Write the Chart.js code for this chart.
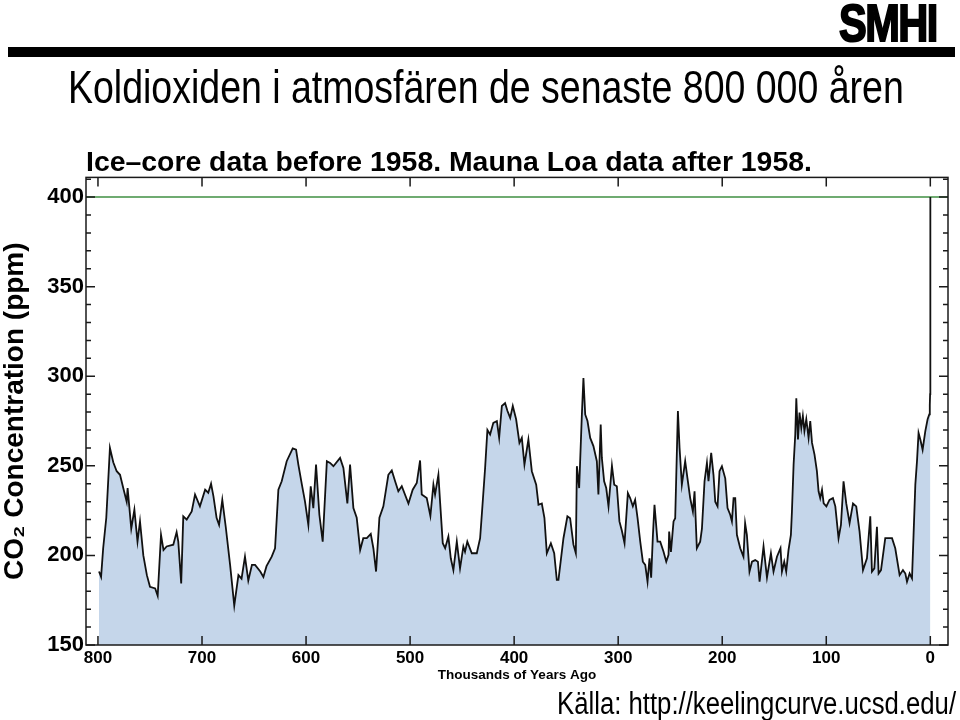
<!DOCTYPE html>
<html>
<head>
<meta charset="utf-8">
<script src="https://cdn.jsdelivr.net/npm/chart.js@4.4.1/dist/chart.umd.min.js"></script>
<style>
  html, body { margin: 0; padding: 0; background: #fff; }
  #page { position: relative; width: 960px; height: 720px; overflow: hidden; }
  #chart { position: absolute; left: 0; top: 0; }
  .logo { position: absolute; left: 839px; top: -3px; font: bold 52px/1 "Liberation Sans", Arial, sans-serif;
          letter-spacing: -2px; -webkit-text-stroke: 2px #000; transform: scaleX(0.8); transform-origin: left top; white-space: nowrap; }
  .bar { position: absolute; left: 8px; top: 47px; width: 947px; height: 10px; background: #000; }
  .headline { position: absolute; left: 68px; top: 64px; font: 46px/1 "Liberation Sans", Arial, sans-serif;
              transform: scaleX(0.815); transform-origin: left top; white-space: nowrap; }
  .source { position: absolute; left: 557px; top: 688px; font: 31px/1 "Liberation Sans", Arial, sans-serif;
            transform: scaleX(0.83); transform-origin: left top; white-space: nowrap; }
</style>
</head>
<body>
<div id="page">
  <canvas id="chart" width="960" height="720"></canvas>
  <div class="logo">SMHI</div>
  <div class="bar"></div>
  <div class="headline">Koldioxiden i atmosfären de senaste 800 000 åren</div>
  <div class="source">Källa: http://keelingcurve.ucsd.edu/</div>
</div>
<script>
// ice core record, thousands of years ago -> ppm
const iceCoreAge = [
  799, 797, 795, 792, 788.5, 785.3, 782, 778.8, 775.7, 772.4, 771.5, 768, 765, 762, 759.6, 756.4, 753, 750, 745, 742.6,
  739.4, 737, 734, 727.6, 724.4, 722.8, 720, 718, 714.7, 709.9, 706.7, 702, 697, 694, 691.3, 689, 686, 683.6, 680.5, 677.2,
  673, 669, 665, 662, 658.7, 655.5, 652, 649, 644, 641, 638, 633, 629.8, 626.6, 623.4, 618.6, 612.8, 609.6, 607.4, 604,
  601, 597.8, 595.5, 593, 590.4, 587.2, 584, 580, 576.9, 573.7, 567.3, 564.1, 560.3, 557.7, 554.5, 551.3, 548, 545, 541.6, 537.8,
  535.3, 532.7, 529.5, 525.7, 520.9, 517.6, 514.4, 511.3, 508, 501.6, 497.5, 493.6, 490.4, 488.8, 484, 480.5, 477.6, 476, 472.8, 471.2,
  468.6, 466.3, 463.2, 460.9, 458.4, 455.1, 452, 448.8, 447.2, 445, 440.7, 435.9, 432.7, 430.5, 427.9, 425.7, 423.1, 420, 416.6, 414.4,
  411.8, 408.7, 406.4, 403.8, 401.3, 398.1, 394.9, 392.6, 390.1, 386.3, 383, 378.8, 376.6, 373.4, 370.9, 368.6, 364.7, 361.5, 359, 357.4,
  352.6, 348.8, 346.2, 343, 340.7, 339.7, 337.5, 334.9, 333.4, 331.7, 329.5, 326.9, 323.8, 320.5, 319, 316.8, 315.7, 313.5, 311.5, 309.3,
  306, 303.8, 301.3, 298.8, 296.4, 293.9, 290.7, 288.5, 285.9, 283.7, 281.4, 278.8, 276.3, 274, 271.8, 269.9, 268.3, 266.6, 265.1, 262.2,
  259.6, 256.4, 253.8, 251.6, 251, 249.3, 246.8, 245.2, 242.6, 241, 238.8, 236.5, 235.6, 233.4, 230.8, 228.2, 226.6, 224.4, 221.2, 219.5,
  217, 214.7, 213.2, 210.6, 208.4, 206.7, 204.5, 202.6, 200.3, 197.1, 194.9, 192.3, 190.7, 189.1, 187.5, 185.9, 182.7, 179.6, 178, 176.3,
  173.8, 171.4, 168.3, 165.7, 164.1, 160.3, 157, 153.2, 150.7, 147.4, 144, 142.6, 140.4, 138.5, 136.3, 134, 133, 131.4, 129.8, 128.8,
  127.2, 125.7, 124, 122.5, 121, 119.2, 117, 115.4, 113.7, 111.3, 109, 107.4, 105.8, 104.1, 102.5, 99.9, 96.9, 93.6, 91.3, 88.2,
  85.9, 83.4, 80.8, 77.6, 74.3, 71.2, 68, 64.7, 60.9, 57.7, 56.1, 53.8, 51.3, 49.7, 47.4, 43.3, 36.8, 33.7, 29.5, 26.3,
  24, 22.4, 19.9, 17.6, 16.1, 14.4, 12.8, 11.3, 9.6, 7.4, 4.8, 2.6, 1, 0.5, 0.2
];
const iceCoreCo2 = [
  191, 188, 204, 221, 260, 252, 247, 245, 237.6, 230, 237.6, 215, 225.5, 207.7, 219, 200, 189, 182.5, 181.6, 177.5,
  211.5, 203, 205, 206, 213, 207.7, 184.4, 221.8, 220, 224.5, 234, 227.4, 236.7, 235, 240, 233, 221, 217, 231, 216,
  194.7, 172, 189, 187, 199.3, 186, 194.7, 194.7, 191, 188, 194, 199.3, 204, 236.7, 241.4, 252.6, 259.7, 259, 250.7, 239.5,
  230, 217, 238.6, 226.4, 250.7, 222.7, 207.7, 252.6, 251.6, 249.8, 254.4, 248.8, 229, 250.7, 226.4, 221, 203, 209.6, 209.6, 212,
  204, 191, 221, 227.4, 245, 247.4, 241.4, 235.8, 238.6, 229, 236.7, 240.4, 253, 234, 232, 222, 239.5, 234, 245, 230,
  206.8, 204, 210.5, 198.4, 191.8, 207.7, 192.8, 205, 202, 207.7, 201.2, 201.2, 209.6, 227.4, 248.8, 270, 267.5, 274, 275, 265.6,
  283.4, 285, 280.6, 276.8, 283.4, 276, 262.8, 265.6, 250.7, 264.7, 247, 239.5, 228.3, 229, 221, 201.2, 206.8, 201.2, 186.3, 186.3,
  209.6, 221.8, 220.8, 206, 201.2, 249.8, 237.6, 278.7, 299, 278.7, 275, 265.6, 261, 252.6, 234, 273, 254.4, 241.4, 237.6, 227.4,
  250, 239.5, 238.6, 219, 213.6, 206.8, 234.8, 232, 227.4, 231, 221, 207.7, 196.5, 194.7, 185.3, 198.4, 187.6, 211.5, 228.3, 207.7,
  207.7, 202, 196.5, 200.3, 213.3, 202, 219, 220.8, 280.6, 260, 239.5, 248.8, 252.6, 243, 232, 224.5, 235.8, 204, 207.7, 215,
  241.4, 251.6, 241.4, 257.2, 245, 230, 227.4, 247, 249.8, 243, 226.4, 222.7, 219, 232, 232, 211.5, 204, 199.3, 218, 211.5,
  191, 196.5, 197.4, 196.5, 185.3, 205, 187.6, 201.2, 191, 199.3, 204, 191, 196.5, 191, 203, 211.5, 224.5, 250.7, 267.5, 287.7,
  264.7, 279.7, 271.2, 277.8, 269.4, 276, 265.6, 275, 262.8, 256.3, 247, 235.8, 232, 236.7, 229, 227.4, 231, 232, 227.4, 209.6,
  217, 241.4, 229, 218, 229, 227.4, 213.3, 191.8, 198.4, 221.8, 191, 192.8, 216, 189.9, 191.8, 209.6, 209.6, 204, 189, 191.8,
  189.9, 185.3, 189.9, 187.2, 211.5, 239.5, 252.6, 268.4, 264.7, 259, 269.4, 276, 278.7, 284, 290
];
// Mauna Loa, 1958 -> present (negative = after 1950)
const maunaLoaAge = [-0.008, -0.063];
const maunaLoaCo2 = [315, 400];

const presentLevel = 400;
const xTickValues = [800, 700, 600, 500, 400, 300, 200, 100, 0];
const yTickValues = [150, 200, 250, 300, 350, 400];
const X_MIN = -17, X_MAX = 811.5;
const Y_MIN = 150, Y_MAX = 411;

const FONT = '"Liberation Sans", Arial, Helvetica, sans-serif';
Chart.defaults.font.family = FONT;
Chart.defaults.color = '#000';

const ages = iceCoreAge.concat(maunaLoaAge);
const co2 = iceCoreCo2.concat(maunaLoaCo2);
const points = ages.map((a, i) => ({ x: a, y: co2[i] }));

// box round the plot with ticks pointing inwards
const frameTicks = {
  id: 'frameTicks',
  afterDraw(chart) {
    const { ctx, chartArea: a, scales: { x, y } } = chart;
    ctx.save();
    ctx.strokeStyle = '#1a1a1a';
    ctx.lineWidth = 1.5;
    ctx.strokeRect(a.left, a.top, a.right - a.left, a.bottom - a.top);
    ctx.beginPath();
    for (let v = Y_MIN; v <= Y_MAX; v += 10) {
      const py = y.getPixelForValue(v);
      const len = v % 50 === 0 ? 9 : 5;
      ctx.moveTo(a.left, py); ctx.lineTo(a.left + len, py);
      ctx.moveTo(a.right, py); ctx.lineTo(a.right - len, py);
    }
    xTickValues.forEach(v => {
      const px = x.getPixelForValue(v);
      ctx.moveTo(px, a.bottom); ctx.lineTo(px, a.bottom - 9);
      ctx.moveTo(px, a.top); ctx.lineTo(px, a.top + 9);
    });
    ctx.stroke();
    ctx.restore();
  }
};

new Chart(document.getElementById('chart'), {
  type: 'line',
  data: {
    datasets: [
      {
        label: 'CO2',
        data: points,
        borderColor: '#111',
        borderWidth: 1.8,
        backgroundColor: '#c5d6ea',
        fill: 'start',
        pointRadius: 0,
        tension: 0,
        order: 1
      },
      {
        label: 'present',
        data: [{ x: X_MAX, y: presentLevel }, { x: X_MIN, y: presentLevel }],
        borderColor: '#3f8f42',
        borderWidth: 1.5,
        pointRadius: 0,
        fill: false,
        order: 2
      }
    ]
  },
  options: {
    responsive: false,
    animation: false,
    layout: { padding: { top: 149, right: 12, bottom: 30, left: 0 } },
    plugins: {
      legend: { display: false },
      tooltip: { enabled: false },
      title: {
        display: true,
        text: 'Ice\u2013core data before 1958. Mauna Loa data after 1958.',
        align: 'start',
        fullSize: false,
        color: '#000',
        padding: 0,
        font: { size: 28.4, weight: 'bold', lineHeight: 1 }
      }
    },
    scales: {
      x: {
        type: 'linear',
        reverse: true,
        min: X_MIN,
        max: X_MAX,
        afterBuildTicks: s => { s.ticks = xTickValues.map(v => ({ value: v })); },
        afterFit: s => { s.height = 45; },
        grid: { display: false, drawTicks: false },
        border: { display: false },
        ticks: { padding: 3, maxRotation: 0, autoSkip: false, font: { size: 17, weight: 'bold' } },
        title: {
          display: true,
          text: 'Thousands of Years Ago',
          font: { size: 13.5, weight: 'bold' },
          padding: { top: 0, bottom: 7 }
        }
      },
      y: {
        min: Y_MIN,
        max: Y_MAX,
        afterBuildTicks: s => { s.ticks = yTickValues.map(v => ({ value: v })); },
        afterFit: s => { s.width = 86; },
        grid: { display: false, drawTicks: false },
        border: { display: false },
        ticks: { padding: 2, font: { size: 22, weight: 'bold' } },
        title: {
          display: true,
          text: 'CO\u2082 Concentration (ppm)',
          font: { size: 28, weight: 'bold', lineHeight: 1 },
          padding: { top: 1, bottom: 0 }
        }
      }
    }
  },
  plugins: [frameTicks]
});
</script>
</body>
</html>
